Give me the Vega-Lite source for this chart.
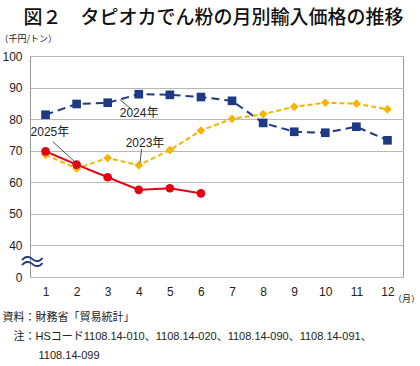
{
  "$schema": "https://vega.github.io/schema/vega-lite/v6.json",
  "width": 373,
  "height": 221,
  "autosize": "none",
  "padding": {"left": 30, "top": 56, "right": 17, "bottom": 89},
  "background": "white",
  "title": {
    "text": "図２　タピオカでん粉の月別輸入価格の推移",
    "font": "Noto Sans CJK JP",
    "fontSize": 19,
    "fontWeight": 500,
    "color": "#111",
    "anchor": "middle",
    "frame": "group",
    "dx": -3,
    "offset": 6
  },
  "config": {
    "font": "Liberation Sans",
    "view": {"stroke": "#999999", "strokeWidth": 1},
    "axis": {"labelColor": "#222", "labelFontSize": 12, "labelFont": "Liberation Sans", "ticks": false, "domain": false, "titleColor": "#222", "titleFontWeight": "normal", "labelOverlap": false}
  },
  "datasets": {
    "prices": [
      {"series": "2024年", "month": 1, "value": 81.4},
      {"series": "2024年", "month": 2, "value": 84.8},
      {"series": "2024年", "month": 3, "value": 85.2},
      {"series": "2024年", "month": 4, "value": 87.9},
      {"series": "2024年", "month": 5, "value": 87.7},
      {"series": "2024年", "month": 6, "value": 87.0},
      {"series": "2024年", "month": 7, "value": 85.8},
      {"series": "2024年", "month": 8, "value": 78.8},
      {"series": "2024年", "month": 9, "value": 76.0},
      {"series": "2024年", "month": 10, "value": 75.7},
      {"series": "2024年", "month": 11, "value": 77.6},
      {"series": "2024年", "month": 12, "value": 73.3},
      {"series": "2023年", "month": 1, "value": 68.7},
      {"series": "2023年", "month": 2, "value": 64.4},
      {"series": "2023年", "month": 3, "value": 67.7},
      {"series": "2023年", "month": 4, "value": 65.4},
      {"series": "2023年", "month": 5, "value": 70.2},
      {"series": "2023年", "month": 6, "value": 76.4},
      {"series": "2023年", "month": 7, "value": 80.1},
      {"series": "2023年", "month": 8, "value": 81.6},
      {"series": "2023年", "month": 9, "value": 83.9},
      {"series": "2023年", "month": 10, "value": 85.2},
      {"series": "2023年", "month": 11, "value": 84.9},
      {"series": "2023年", "month": 12, "value": 83.1},
      {"series": "2025年", "month": 1, "value": 69.8},
      {"series": "2025年", "month": 2, "value": 65.6},
      {"series": "2025年", "month": 3, "value": 61.6},
      {"series": "2025年", "month": 4, "value": 57.6},
      {"series": "2025年", "month": 5, "value": 58.1},
      {"series": "2025年", "month": 6, "value": 56.5}
    ],
    "labels": [
      {"text": "2024年", "x": 4.01, "y": 81.9},
      {"text": "2025年", "x": 1.14, "y": 75.9},
      {"text": "2023年", "x": 4.2, "y": 72.4}
    ],
    "leaders": [
      {"x": 3.4, "y": 86.1, "x2": 3.72, "y2": 83.5},
      {"x": 1.24, "y": 72.8, "x2": 1.95, "y2": 66.4},
      {"x": 4.09, "y": 70.5, "x2": 4.04, "y2": 66.1}
    ],
    "brk": [{"x": 0.57, "y": 35.1, "text": ["〜", "〜"]}]
  },
  "layer": [
    {
      "data": {"name": "prices"},
      "mark": {"type": "line", "strokeWidth": 2},
      "encoding": {
        "x": {
          "field": "month", "type": "quantitative",
          "scale": {"domain": [0.5, 12.5], "nice": false, "zero": false},
          "axis": {
            "values": [1,2,3,4,5,6,7,8,9,10,11,12],
            "tickCount": 24,
            "format": "d",
            "labelOverlap": false,
            "grid": false,
            "labelPadding": 9,
            "title": ["資料：財務省「貿易統計」", "\u200b　注：HSコード1108.14-010、1108.14-020、1108.14-090、1108.14-091、", "\u200b　　　\u00a01108.14-099"],
            "titleFont": "Liberation Sans, Noto Sans CJK JP",
            "titleFontSize": 11,
            "titleAlign": "left",
            "titleAnchor": "start",
            "titleBaseline": "top",
            "titleX": -28,
            "titleY": 34,
            "titleLineHeight": 19
          }
        },
        "y": {
          "field": "value", "type": "quantitative",
          "scale": {"domain": [30, 100], "nice": false, "zero": false},
          "axis": {
            "values": [30,40,50,60,70,80,90,100],
            "tickCount": 16,
            "format": "d",
            "labelOverlap": false,
            "labelExpr": "datum.value == 30 ? '0' : datum.label",
            "grid": true,
            "gridColor": "#b8b8b8",
            "labelPadding": 8,
            "title": "（千円/トン）",
            "titleFont": "Noto Sans CJK JP",
            "titleFontSize": 9,
            "titleAngle": 0,
            "titleAlign": "left",
            "titleBaseline": "middle",
            "titleX": -31,
            "titleY": -18
          }
        },
        "color": {
          "field": "series", "type": "nominal",
          "scale": {"domain": ["2023年","2024年","2025年"], "range": ["#f5b400","#1f3a84","#e60012"]},
          "legend": null
        },
        "strokeDash": {
          "field": "series", "type": "nominal",
          "scale": {"domain": ["2023年","2024年","2025年"], "range": [[5,3],[8,5],[1,0]]},
          "legend": null
        }
      }
    },
    {
      "data": {"name": "prices"},
      "mark": {"type": "point", "filled": true, "opacity": 1, "size": 75},
      "encoding": {
        "x": {"field": "month", "type": "quantitative"},
        "y": {"field": "value", "type": "quantitative"},
        "color": {
          "field": "series", "type": "nominal",
          "scale": {"domain": ["2023年","2024年","2025年"], "range": ["#f5b400","#2e3192","#e60012"]},
          "legend": null
        },
        "shape": {
          "field": "series", "type": "nominal",
          "scale": {"domain": ["2023年","2024年","2025年"], "range": ["diamond","square","circle"]},
          "legend": null
        }
      }
    },
    {
      "data": {"name": "leaders"},
      "mark": {"type": "rule", "color": "#222", "strokeWidth": 0.8},
      "encoding": {
        "x": {"field": "x", "type": "quantitative"},
        "y": {"field": "y", "type": "quantitative"},
        "x2": {"field": "x2"},
        "y2": {"field": "y2"}
      }
    },
    {
      "data": {"name": "labels"},
      "mark": {"type": "text", "fontSize": 12, "color": "#222", "align": "center", "baseline": "middle", "font": "Liberation Sans, Noto Sans CJK JP"},
      "encoding": {
        "x": {"field": "x", "type": "quantitative"},
        "y": {"field": "y", "type": "quantitative"},
        "text": {"field": "text"}
      }
    },
    {
      "data": {"name": "brk"},
      "mark": {"type": "text", "fontSize": 24, "lineHeight": 5, "color": "#1f3a84", "align": "center", "baseline": "middle", "font": "Noto Sans CJK JP"},
      "encoding": {
        "x": {"field": "x", "type": "quantitative"},
        "y": {"field": "y", "type": "quantitative"},
        "text": {"field": "text"}
      }
    },
    {
      "data": {"values": [{"t": "（月）"}]},
      "mark": {"type": "text", "fontSize": 9, "color": "#222", "align": "right", "baseline": "middle", "dx": 17, "dy": 22, "font": "Noto Sans CJK JP"},
      "encoding": {
        "x": {"datum": 12.5},
        "y": {"datum": 30},
        "text": {"field": "t"}
      }
    }
  ]
}
